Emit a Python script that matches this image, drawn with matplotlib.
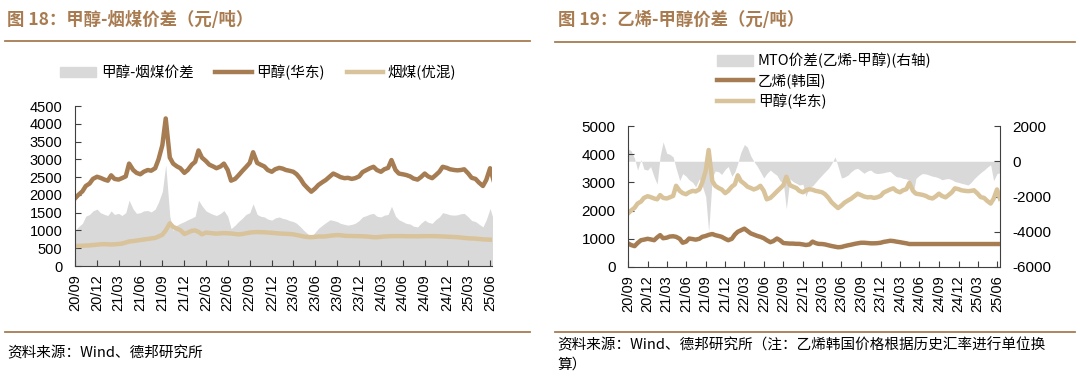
import pandas as pd
import matplotlib.pyplot as plt
from matplotlib.lines import Line2D
from matplotlib.patches import Patch

plt.rcParams['font.family'] = ['Noto Sans CJK SC', 'DejaVu Sans']
plt.rcParams['axes.unicode_minus'] = False

# semi-monthly points: month end and mid-month, 2020/09 -> 2025/07
dates = pd.date_range('2020-10-01', periods=116, freq='SMS') - pd.Timedelta(days=1)
tick_dates = pd.date_range('2020-10-01', '2025-07-01', freq='3MS') - pd.Timedelta(days=1)
tick_labels = [d.strftime('%y/%m') for d in tick_dates]

# 甲醇(华东), 元/吨
methanol = [
    1900, 2000, 2100, 2250, 2320, 2450, 2510, 2480, 2430, 2400, 2550, 2450,
    2430, 2470, 2520, 2880, 2700, 2620, 2580, 2650, 2700, 2680, 2750, 3000,
    3400, 4150, 3050, 2880, 2800, 2750, 2620, 2700, 2850, 2930, 3250, 3050,
    2950, 2850, 2800, 2750, 2800, 2880, 2700, 2400, 2450, 2550, 2680, 2780,
    2900, 3200, 2900, 2850, 2800, 2700, 2650, 2720, 2760, 2740, 2700, 2680,
    2650, 2580, 2450, 2300, 2180, 2090, 2180, 2280, 2360, 2420, 2520, 2600,
    2550, 2500, 2470, 2480, 2450, 2470, 2520, 2640, 2700, 2750, 2790, 2700,
    2650, 2720, 2760, 2980, 2700, 2600, 2580, 2560, 2520, 2460, 2430, 2500,
    2600, 2520, 2470, 2550, 2650, 2790, 2760, 2720, 2700, 2690, 2700, 2720,
    2600, 2480, 2450, 2350, 2250, 2420, 2750, 2420,
]

# 烟煤(优混)
coal = [
    560, 565, 570, 575, 580, 590, 600, 610, 615, 610, 605, 610,
    620, 630, 660, 690, 700, 715, 730, 745, 760, 775, 790, 830,
    880, 1000, 1200, 1100, 1050, 1010, 900, 940, 990, 1000, 960, 890,
    940, 930, 920, 910, 920, 925, 920, 915, 900, 890, 900, 920,
    940, 950, 955, 950, 950, 940, 935, 925, 915, 910, 905, 900,
    890, 870, 850, 830, 815, 810, 820, 830, 830, 835, 850, 860,
    870, 865, 850, 845, 845, 840, 840, 835, 830, 820, 810, 810,
    820, 830, 835, 840, 840, 840, 840, 838, 835, 835, 835, 838,
    840, 840, 840, 838, 835, 830, 825, 820, 815, 810, 800, 790,
    780, 775, 770, 760, 750, 745, 740, 740,
]

# 甲醇-烟煤价差
coal_spread = [
    1000, 1100, 1200, 1400, 1450, 1550, 1600, 1500, 1450, 1420, 1550, 1450,
    1480, 1420, 1500, 1850, 1600, 1480, 1500, 1550, 1560, 1520, 1600, 1800,
    2100, 2850, 1400, 1000, 1150, 1200, 1250, 1300, 1350, 1400, 1850, 1700,
    1550, 1500, 1450, 1420, 1480, 1560, 1400, 1050, 1150, 1250, 1350, 1450,
    1500, 1750, 1450, 1400, 1380, 1320, 1290, 1350, 1380, 1340, 1320, 1280,
    1250, 1200, 1100, 1000, 900, 820, 950, 1060, 1150, 1220, 1300, 1280,
    1250, 1200, 1170, 1150, 1170, 1200, 1280, 1380, 1420, 1460, 1480, 1400,
    1380, 1430, 1450, 1680, 1400, 1300, 1250, 1200, 1180, 1120, 1100, 1200,
    1290, 1230, 1200, 1300, 1380, 1500, 1470, 1440, 1430, 1440, 1470, 1480,
    1380, 1280, 1250, 1180, 1100, 1300, 1620, 1300,
]

# 乙烯(韩国)
ethylene = [
    840, 780, 740, 850, 950, 970, 1000, 980, 950, 1050, 1130, 1020,
    1040, 1080, 1090, 1070, 1000, 860, 900, 1010, 990, 970, 1000, 1070,
    1100, 1140, 1170, 1130, 1100, 1070, 1000, 950, 1000, 1150, 1250, 1300,
    1360, 1280, 1190, 1150, 1100, 1070, 1020, 950, 880, 920, 1010, 950,
    850, 840, 830, 830, 820, 820, 800, 780, 800, 900, 850, 820,
    815, 800, 770, 745, 720, 700, 710, 740, 770, 790, 820, 840,
    860, 860, 850, 840, 840, 845, 860, 890, 910, 930, 920, 900,
    880, 860, 840, 815, 815, 815, 815, 815, 815, 815, 815, 815,
    815, 815, 815, 815, 815, 815, 815, 815, 815, 815, 815, 815,
    815, 815, 815, 815, 815, 815, 815, 815,
]

# MTO价差(乙烯-甲醇), 右轴
mto_spread = [
    700, 600, 150, -500, 100, -450, -500, -300, -900, -1300, 300, 1100,
    450, 400, 250, -400, -1100, -700, -850, -1050, -1200, -1450, -1000, -1400,
    -2000, -4000, -900, -550, -600, -750, -450, -300, -850, -600, -100, 500,
    950, 800, 300, 0, -300, -600, -950, -700, -500, -650, -800, -1100,
    -1250, -2700, -1000, -1150, -1250, -1350, -1300, -2000, -1450, -1400, -1200, -1000,
    -780, -600, -400, -150, 250, -300, -950, -900, -780, -600, -450, -400,
    -550, -680, -550, -500, -650, -700, -680, -650, -600, -580, -750, -880,
    -900, -970, -1000, -1100, -1900, -970, -800, -700, -720, -780, -850, -880,
    -950, -1050, -1000, -980, -1050, -1150, -1200, -1250, -1300, -1350, -1200, -1000,
    -800, -650, -500, -350, -200, -1100, -700, -650,
]

BROWN = '#A67C52'
TAN = '#D9C39A'
GRAY = '#D9D9D9'
TITLE = '#A87B50'
NUM_FONT = 'Liberation Sans'

fig = plt.figure(figsize=(10.8, 3.92), dpi=100)
W, H = 1080, 392


def rect(x0, y0, x1, y1):
    return [x0 / W, 1 - y1 / H, (x1 - x0) / W, (y1 - y0) / H]


def style_axis(ax, fs):
    for s in ['top', 'right']:
        ax.spines[s].set_visible(False)
    for s in ['left', 'bottom', 'right']:
        ax.spines[s].set_color('#404040')
        ax.spines[s].set_linewidth(0.8)
    ax.set_xticks(tick_dates)
    ax.set_xticklabels(tick_labels, rotation=90, fontsize=10.5, family=NUM_FONT)
    ax.tick_params(axis='x', direction='in', length=4, width=0.8, color='#404040', pad=6)
    ax.tick_params(axis='y', direction='in', length=4, width=0.8, color='#404040', pad=9, labelsize=fs)
    for lab in ax.get_yticklabels():
        lab.set_family(NUM_FONT)


# ---- 图18 ----
ax1 = fig.add_axes(rect(75, 106, 492, 266))
ax1.fill_between(dates, 0, coal_spread, color=GRAY, linewidth=0, label='甲醇-烟煤价差')
ax1.plot(dates, methanol, color=BROWN, lw=3.2, label='甲醇(华东)')
ax1.plot(dates, coal, color=TAN, lw=3.2, label='烟煤(优混)')
ax1.set_ylim(0, 4500)
ax1.set_yticks(range(0, 4501, 500))
ax1.set_xlim(dates[0], pd.Timestamp('2025-07-08'))
style_axis(ax1, 10.5)

h1 = [Patch(color=GRAY), Line2D([], [], color=BROWN, lw=3.2), Line2D([], [], color=TAN, lw=3.2)]
fig.legend(h1, ['甲醇-烟煤价差', '甲醇(华东)', '烟煤(优混)'], loc='center',
           bbox_to_anchor=(258 / W, 1 - 72 / H), ncol=3, frameon=False, fontsize=10.5,
           handlelength=2.5, handletextpad=0.3, columnspacing=1.5)

# ---- 图19 ----
ax2 = fig.add_axes(rect(628, 126, 1000, 267))
ax2r = ax2.twinx()
ax2r.fill_between(dates, 0, mto_spread, color=GRAY, linewidth=0)
ax2.plot(dates, ethylene, color=BROWN, lw=3.2)
ax2.plot(dates, methanol, color=TAN, lw=3.2)
ax2.set_zorder(ax2r.get_zorder() + 1)
ax2.patch.set_visible(False)
ax2.set_ylim(0, 5000)
ax2.set_yticks(range(0, 5001, 1000))
ax2r.set_ylim(-6000, 2000)
ax2r.set_yticks(range(-6000, 2001, 2000))
ax2.set_xlim(dates[0], dates[-1])
style_axis(ax2, 11)
ax2r.spines['top'].set_visible(False)
ax2r.spines['left'].set_visible(False)
ax2r.spines['bottom'].set_visible(False)
ax2r.spines['right'].set_color('#404040')
ax2r.spines['right'].set_linewidth(0.8)
ax2r.tick_params(axis='y', direction='in', length=4, width=0.8, color='#404040', pad=9, labelsize=11)
for lab in ax2r.get_yticklabels():
    lab.set_family(NUM_FONT)

h2 = [Patch(color=GRAY), Line2D([], [], color=BROWN, lw=3.2), Line2D([], [], color=TAN, lw=3.2)]
fig.legend(h2, ['MTO价差(乙烯-甲醇)(右轴)', '乙烯(韩国)', '甲醇(华东)'], loc='upper left',
           bbox_to_anchor=(717 / W, 1 - 53 / H), ncol=1, frameon=False, fontsize=10.5,
           handlelength=2.5, handletextpad=0.3, labelspacing=0.35, borderpad=0, borderaxespad=0)

# ---- 标题、分隔线、来源 ----
fig.text(7 / W, 1 - 20 / H, '图 18：甲醇-烟煤价差（元/吨）', fontsize=12.5, fontweight='bold',
         color=TITLE, va='center', ha='left')
fig.text(558 / W, 1 - 20 / H, '图 19：乙烯-甲醇价差（元/吨）', fontsize=12.5, fontweight='bold',
         color=TITLE, va='center', ha='left')
for x0, x1, y in [(5, 530, 41), (555, 1075, 42), (5, 530, 332), (555, 1075, 332)]:
    fig.add_artist(Line2D([x0 / W, x1 / W], [1 - y / H, 1 - y / H], color=BROWN, lw=1.3))

fig.text(7 / W, 1 - 353 / H, '资料来源：Wind、德邦研究所', fontsize=10.5, va='center', ha='left')
fig.text(557 / W, 1 - 345 / H, '资料来源：Wind、德邦研究所（注：乙烯韩国价格根据历史汇率进行单位换',
         fontsize=10.5, va='center', ha='left')
fig.text(557 / W, 1 - 365 / H, '算）', fontsize=10.5, va='center', ha='left')

fig.savefig('out.png', dpi=100)
